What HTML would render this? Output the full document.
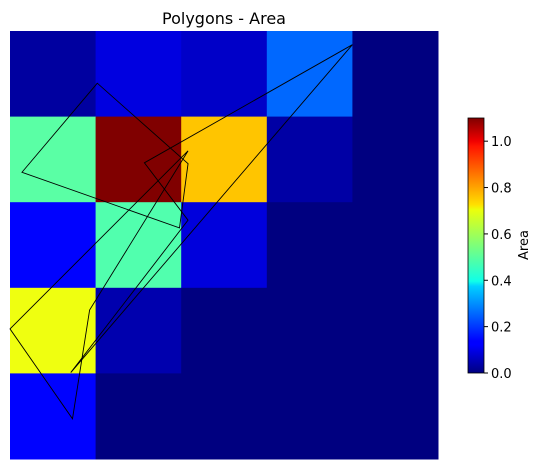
<!DOCTYPE html>
<html><head><meta charset="utf-8"><style>
body{margin:0;background:#fff;}
svg{display:block;font-family:"DejaVu Sans","Liberation Sans",sans-serif;}
</style></head><body>
<svg id="chart" width="542" height="469" viewBox="0 0 542 469" xmlns="http://www.w3.org/2000/svg">
<text x="224" y="24" font-size="16" text-anchor="middle">Polygons - Area</text>
<g id="cells"></g>
<g id="polys"></g>
<defs><linearGradient id="jet" x1="0" y1="1" x2="0" y2="0">
<stop offset="0" stop-color="#000080"/><stop offset="0.11" stop-color="#0000ff"/><stop offset="0.125" stop-color="#0000ff"/>
<stop offset="0.34" stop-color="#00d0ff"/><stop offset="0.36" stop-color="#10ffe8"/><stop offset="0.5" stop-color="#7dff7a"/>
<stop offset="0.64" stop-color="#ebff0c"/><stop offset="0.66" stop-color="#ffe000"/><stop offset="0.89" stop-color="#ff1400"/>
<stop offset="0.91" stop-color="#f00000"/><stop offset="1" stop-color="#800000"/></linearGradient></defs>
<rect x="468" y="118" width="16" height="255" fill="url(#jet)" stroke="#000" stroke-width="0.8"/>
<g id="cbticks"></g>
<text x="528" y="245" font-size="13" text-anchor="middle" transform="rotate(-90 528 245)">Area</text>
</svg>
<script>
const values = [
 [0.035,0.104,0.078,0.25,0],
 [0.51,1.1,0.75,0.04,0],
 [0.14,0.50,0.10,0,0],
 [0.67,0.05,0,0,0],
 [0.14,0,0,0,0]
];
const polyA = [[0.52,0.11],[-0.36,1.15],[1.48,1.80],[1.58,1.05]];
const polyB = [[3.50,-0.34],[1.07,1.04],[1.58,1.71],[0.21,3.49]];
const polyC = [[1.58,0.90],[-0.5,2.98],[0.23,4.03],[0.43,2.76]];
const cbTicks = [0.0,0.2,0.4,0.6,0.8,1.0];
const vmax = 1.1;
const NS='http://www.w3.org/2000/svg';
const x0=10,y0=31,cell=85.6;
const sx=u=>x0+(u+0.5)*cell, sy=v=>y0+(v+0.5)*cell;
function jet(t){t=Math.max(0,Math.min(1,t/vmax));
 const c=x=>Math.round(255*Math.max(0,Math.min(1,x)));
 const r=Math.min(4*t-1.5,-4*t+4.5),g=Math.min(4*t-0.5,-4*t+3.5),b=Math.min(4*t+0.5,-4*t+2.5);
 return `rgb(${c(r)},${c(g)},${c(b)})`;}
const cells=document.getElementById('cells');
values.forEach((row,i)=>row.forEach((v,j)=>{
 const r=document.createElementNS(NS,'rect');
 r.setAttribute('x',x0+j*cell);r.setAttribute('y',y0+i*cell);
 r.setAttribute('width',cell+0.5);r.setAttribute('height',cell+0.5);
 r.setAttribute('fill',jet(v));
 
 
 cells.appendChild(r);}));
const pg=document.getElementById('polys');
[polyA,polyB,polyC].forEach((p,k)=>{
 const e=document.createElementNS(NS,'polygon');
 e.setAttribute('points',p.map(q=>sx(q[0])+','+sy(q[1])).join(' '));
 e.setAttribute('fill','none');e.setAttribute('stroke','#000');e.setAttribute('stroke-width','0.9');
 
 
 pg.appendChild(e);});
const cb=document.getElementById('cbticks');
cbTicks.forEach(t=>{
 const y=373-t/vmax*255;
 const l=document.createElementNS(NS,'line');
 l.setAttribute('x1',484);l.setAttribute('x2',488);l.setAttribute('y1',y);l.setAttribute('y2',y);l.setAttribute('stroke','#000');
 
 
 cb.appendChild(l);
 const tx=document.createElementNS(NS,'text');
 tx.setAttribute('x',491);tx.setAttribute('y',y+5);tx.setAttribute('font-size','13');
 tx.textContent=t.toFixed(1);
 
 
 cb.appendChild(tx);});
</script>
</body></html>
